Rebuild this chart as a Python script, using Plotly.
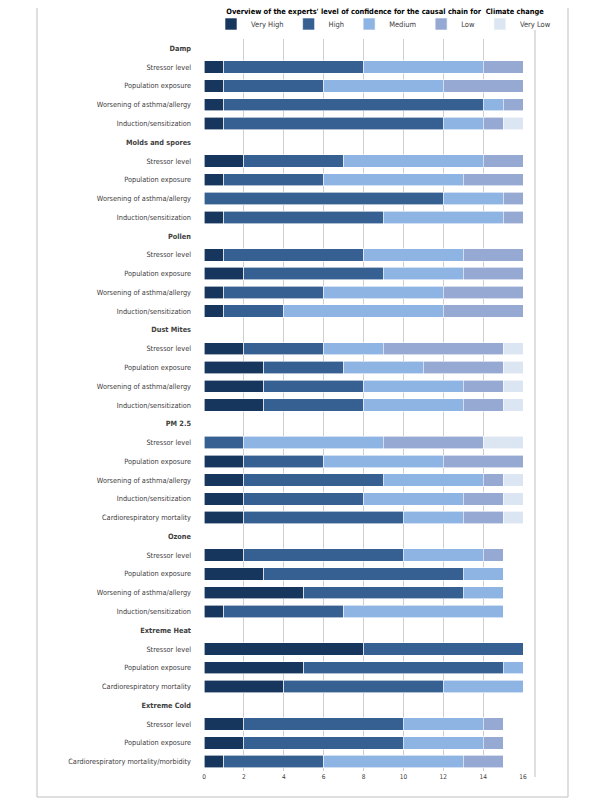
import plotly.graph_objects as go

# ---------------- data ----------------
row_labels = [
    "Damp", "Stressor level", "Population exposure", "Worsening of asthma/allergy", "Induction/sensitization",
    "Molds and spores", "Stressor level", "Population exposure", "Worsening of asthma/allergy", "Induction/sensitization",
    "Pollen", "Stressor level", "Population exposure", "Worsening of asthma/allergy", "Induction/sensitization",
    "Dust Mites", "Stressor level", "Population exposure", "Worsening of asthma/allergy", "Induction/sensitization",
    "PM 2.5", "Stressor level", "Population exposure", "Worsening of asthma/allergy", "Induction/sensitization",
    "Cardiorespiratory mortality",
    "Ozone", "Stressor level", "Population exposure", "Worsening of asthma/allergy", "Induction/sensitization",
    "Extreme Heat", "Stressor level", "Population exposure", "Cardiorespiratory mortality",
    "Extreme Cold", "Stressor level", "Population exposure", "Cardiorespiratory mortality/morbidity",
]
is_header = [
    True, False, False, False, False,
    True, False, False, False, False,
    True, False, False, False, False,
    True, False, False, False, False,
    True, False, False, False, False, False,
    True, False, False, False, False,
    True, False, False, False,
    True, False, False, False,
]

very_high = [None, 1, 1, 1, 1, None, 2, 1, 0, 1, None, 1, 2, 1, 1, None, 2, 3, 3, 3,
             None, 0, 2, 2, 2, 2, None, 2, 3, 5, 1, None, 8, 5, 4, None, 2, 2, 1]
high = [None, 7, 5, 13, 11, None, 5, 5, 12, 8, None, 7, 7, 5, 3, None, 4, 4, 5, 5,
        None, 2, 4, 7, 6, 8, None, 8, 10, 8, 6, None, 8, 10, 8, None, 8, 8, 5]
medium = [None, 6, 6, 1, 2, None, 7, 7, 3, 6, None, 5, 4, 6, 8, None, 3, 4, 5, 5,
          None, 7, 6, 5, 5, 3, None, 4, 2, 2, 8, None, 0, 1, 4, None, 4, 4, 7]
low = [None, 2, 4, 1, 1, None, 2, 3, 1, 1, None, 3, 3, 4, 4, None, 6, 4, 2, 2,
       None, 5, 4, 1, 2, 2, None, 1, 0, 0, 0, None, 0, 0, 0, None, 1, 1, 2]
very_low = [None, 0, 0, 0, 1, None, 0, 0, 0, 0, None, 0, 0, 0, 0, None, 1, 1, 1, 1,
            None, 2, 0, 1, 1, 1, None, 0, 0, 0, 0, None, 0, 0, 0, None, 0, 0, 0]

series_names = ["Very High", "High", "Medium", "Low", "Very Low"]
series_values = [very_high, high, medium, low, very_low]
series_colors = ["#17365D", "#366092", "#8DB4E2", "#95A9D3", "#DCE6F2"]

x_ticks = [0, 2, 4, 6, 8, 10, 12, 14, 16]

# ---------------- figure ----------------
y_idx = list(range(len(row_labels)))
tick_text = [f"<b>{t}</b>" if h else t for t, h in zip(row_labels, is_header)]

FONT = "Liberation Sans Narrow, DejaVu Sans Condensed, Liberation Sans, sans-serif"

fig = go.Figure()
for name, vals, col in zip(series_names, series_values, series_colors):
    clean = [v if v else None for v in vals]
    fig.add_trace(go.Bar(
        name=name, y=y_idx, x=clean, orientation="h",
        marker=dict(color=col, line=dict(color="white", width=0.6)),
        width=0.66,
    ))

W, H = 600, 800
OFF = 8  # page body margin offset
# desired on-screen plot area: x 204..523, y 39..771
L, R, T, B = 204 - OFF, W - (523 - OFF), 39 - OFF, H - (771 - OFF)


def px(x):
    return (x - 204) / 319


def py(y):
    return (771 - y) / 732


fig.update_layout(
    width=W, height=H,
    barmode="stack",
    paper_bgcolor="white", plot_bgcolor="white",
    margin=dict(l=L, r=R, t=T, b=B, pad=0, autoexpand=False),
    font=dict(family=FONT, size=7.5, color="#404040"),
    title=dict(
        text="<b>Overview of the experts' level of confidence for the causal chain for  Climate change</b>",
        x=(385 - OFF) / W, xanchor="center", xref="container",
        y=1 - (11 - OFF) / H, yanchor="middle", yref="container",
        font=dict(family=FONT, size=7.4, color="#000000"),
    ),
    legend=dict(
        orientation="h", xref="paper", yref="paper",
        x=px(556), xanchor="right", y=py(24), yanchor="middle",
        font=dict(family=FONT, size=7.5, color="#404040"), itemwidth=30, traceorder="normal",
        bgcolor="rgba(0,0,0,0)", tracegroupgap=0,
    ),
    showlegend=True,
)

fig.update_xaxes(
    range=[0, 16], tickvals=x_ticks, showgrid=True, gridcolor="#CFCFCF", gridwidth=1.3,
    zeroline=False, showline=False, ticks="", tickfont=dict(size=6.5, color="#404040"),
    fixedrange=True,
)
fig.update_yaxes(
    tickvals=y_idx, ticktext=tick_text, range=[len(row_labels) - 0.5, -0.5],
    showgrid=False, zeroline=False, showline=False, ticks="",
    ticklabelstandoff=12, tickfont=dict(size=7.3, color="#404040"),
    fixedrange=True,
)

# outer chart frame and plot-area right edge
fig.add_shape(type="rect", xref="paper", yref="paper",
              x0=px(37), x1=px(568), y0=py(797), y1=py(1),
              line=dict(color="#BFBFBF", width=1), fillcolor="rgba(0,0,0,0)", layer="below")
fig.add_shape(type="line", xref="paper", yref="paper",
              x0=px(535), x1=px(535), y0=py(777), y1=py(30),
              line=dict(color="#BFBFBF", width=1))

fig.write_html("out.html")
